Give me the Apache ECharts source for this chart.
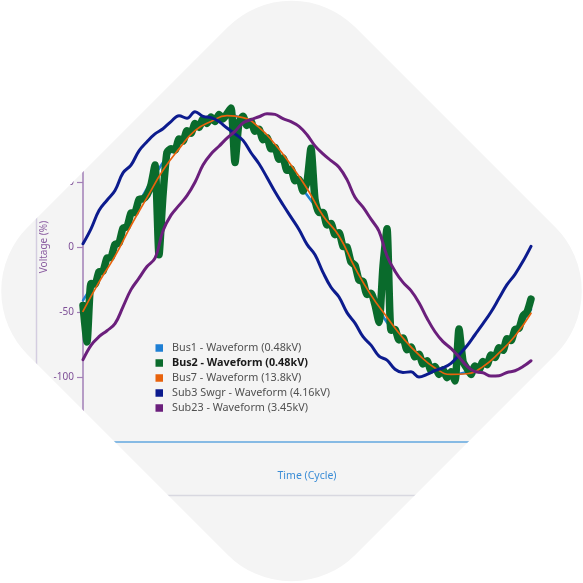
<!DOCTYPE html>
<html>
<head>
<meta charset="utf-8">
<script src="https://cdn.jsdelivr.net/npm/echarts@6/dist/echarts.min.js"></script>
<style>
html,body{margin:0;padding:0;background:#ffffff;}
#chart{width:583px;height:583px;}
</style>
</head>
<body>
<div id="chart"></div>
<script>
// ---- data ----
const seriesNames = [
  'Bus1 - Waveform (0.48kV)',
  'Bus2 - Waveform (0.48kV)',
  'Bus7 - Waveform (13.8kV)',
  'Sub3 Swgr - Waveform (4.16kV)',
  'Sub23 - Waveform (3.45kV)'
];
// x in sample units (0..112); each series lists values at its own sample step
const xMax = 112;
const bus1Step = 4;
const bus1Vals = [-41, -21, 0, 23.5, 45, 65, 80.5, 92.5, 98.5, 101.5, 98, 88, 74, 57.5, 40, 24, 8.5, -16.5, -38, -58, -72.5, -85, -94.4, -98.3, -96, -90.5, -80, -66, -48];
const bus2Step = 1;
const bus2Vals = [
  -45, -73, -28, -28.5, -19, -18.5, -8.5, -8, 2, 3,
  14.5, 15.5, 26, 26.5, 36.5, 37, 40, 48, 63, -6,
  40, 73, 75.5, 74.5, 83, 81.5, 89.5, 87.5, 95, 92,
  98.5, 95, 100, 96.5, 102, 98.5, 102.5, 107, 65, 96,
  100.5, 93.5, 96.5, 89, 90.5, 82.5, 84, 75.5, 76.5, 67.5,
  68.5, 59, 60, 51, 52, 43, 50, 76, 36.5, 26.5,
  26.5, 17, 18, 9.5, 11, 0.5, 0, -11.5, -14, -25.5,
  -26.5, -36.5, -35.5, -44.5, -58, -15, 14, -64, -63.5, -71.5,
  -70, -79, -77, -84.5, -82.5, -90, -87.5, -95, -92, -98,
  -94.5, -100.5, -96, -103, -63, -88, -93.5, -98, -91.5, -94.5,
  -88, -90.5, -83, -85, -77.5, -79.5, -70.5, -72, -63.5, -62.5,
  -53, -50, -40
];
const bus7Step = 4;
const bus7Vals = [-49.5, -27, -7, 16.5, 38, 59, 75.5, 89.5, 96.5, 101, 99.5, 92, 79, 63, 45, 24, 8.5, -16, -37, -54, -70, -83, -93, -98, -97.5, -92, -81.5, -68.5, -51];
const sub3Step = 2;
const sub3Vals = [2.5, 14, 28, 36, 43.5, 57, 63, 74, 81, 87, 91, 96.5, 101, 99, 104, 100.5, 99.5, 96.5, 91.5, 87, 82, 72.5, 64, 53.5, 42.5, 32.5, 23, 13.5, 2, -6, -19.5, -31, -38.5, -50.5, -58.5, -69, -75.5, -84, -87, -94, -96.5, -96, -100, -98, -95, -93, -89.5, -83, -76, -67.5, -59, -50, -39.5, -29, -21, -11, 0.5];
const sub23Step = 2;
const sub23Vals = [-86.7, -75.6, -69, -64.4, -59, -46, -32.8, -24, -15, -8.6, 12.5, 24.5, 32, 39.5, 49.8, 63, 71.5, 77.5, 83.7, 89, 95.4, 98, 100.2, 102.5, 102, 98.7, 96.4, 92.8, 86.4, 77.8, 71.6, 66.4, 61.4, 51.8, 38.3, 30.6, 21.4, 12.2, -6.9, -18.6, -27.2, -33.6, -42.8, -54.8, -65.2, -72.8, -78, -84.7, -91.7, -95.9, -96.7, -99.3, -99, -96.5, -95.2, -92, -87.5];
const yMin = -150, yMax = 150, yStep = 50;

// ---- styling ----
const colors = ['#1e7fd4', '#0a6b2c', '#e8620c', '#0c1b8e', '#6b1f7c'];
const widths = [2.5, 7.5, 1.7, 3, 3];
const smoothness = [true, 0.2, true, 0.4, 0.4];

function pairs(vals, step) { return vals.map((v, i) => [i * step, v]); }

// rounded-diamond frame: white stroke drawn outside a rotated rounded square
const frame = { cx: 291.5, cy: 291, halfSide: 231.6, radius: 90, band: 400 };

const chart = echarts.init(document.getElementById('chart'), null, { renderer: 'canvas' });

const seriesData = [
  pairs(bus1Vals, bus1Step),
  pairs(bus2Vals, bus2Step),
  pairs(bus7Vals, bus7Step),
  pairs(sub3Vals, sub3Step),
  pairs(sub23Vals, sub23Step)
];

const S = frame.halfSide + frame.band / 2;

const option = {
  animation: false,
  backgroundColor: '#f4f4f4',
  textStyle: { fontFamily: 'Noto Sans' },
  grid: { left: 83, right: 52, top: 52, bottom: 141, containLabel: false },
  legend: {
    orient: 'vertical',
    left: 155.5,
    top: 340.5,
    padding: 0,
    itemGap: 0,
    itemWidth: 7.5,
    itemHeight: 7.5,
    icon: 'rect',
    selectedMode: false,
    textStyle: { fontFamily: 'Noto Sans', fontSize: 10.8, color: '#505050', lineHeight: 15, padding: [0, 0, 0, 4] },
    data: seriesNames.map((n, i) => i === 1
      ? { name: n, textStyle: { fontWeight: 'bold', color: '#1a1a1a' } }
      : { name: n })
  },
  xAxis: {
    type: 'value',
    min: 0,
    max: xMax,
    name: 'Time (Cycle)',
    nameLocation: 'middle',
    nameGap: 29,
    nameMoveOverlap: false,
    nameTextStyle: { color: '#3b8dd6', fontSize: 10.5, fontFamily: 'Noto Sans' },
    axisLine: { show: true, onZero: false, lineStyle: { color: '#62a6de', width: 1.5 } },
    axisTick: { show: false },
    axisLabel: { show: false },
    splitLine: { show: false }
  },
  yAxis: {
    type: 'value',
    min: yMin,
    max: yMax,
    interval: yStep,
    name: 'Voltage (%)',
    nameLocation: 'middle',
    nameGap: 34,
    nameMoveOverlap: false,
    nameTextStyle: { color: '#8a5ca0', fontSize: 10, fontFamily: 'Noto Sans' },
    axisLine: { show: true, lineStyle: { color: '#a27fb7', width: 1.5 } },
    axisTick: { show: true, length: 6, lineStyle: { color: '#a27fb7', width: 1.2 } },
    axisLabel: { color: '#7e4f97', fontSize: 10, margin: 9, fontFamily: 'Noto Sans' },
    splitLine: { show: false }
  },
  graphic: [
    { type: 'line', z: 0, silent: true, shape: { x1: 0, y1: 495.5, x2: 583, y2: 495.5 }, style: { stroke: '#d8d8e0', lineWidth: 1.5 } },
    { type: 'line', z: 0, silent: true, shape: { x1: 36.5, y1: 0, x2: 36.5, y2: 583 }, style: { stroke: '#d4cde0', lineWidth: 1.5 } },
    {
      type: 'rect', z: 100, silent: true,
      x: frame.cx, y: frame.cy, rotation: Math.PI / 4,
      shape: { x: -S, y: -S, width: 2 * S, height: 2 * S, r: frame.radius + frame.band / 2 },
      style: { fill: null, stroke: '#ffffff', lineWidth: frame.band }
    }
  ],
  series: seriesNames.map((n, i) => ({
    name: n,
    type: 'line',
    data: seriesData[i],
    symbol: 'none',
    showSymbol: false,
    smooth: smoothness[i],
    clip: false,
    lineStyle: { color: colors[i], width: widths[i], join: 'round', cap: 'round' },
    itemStyle: { color: colors[i] },
    emphasis: { disabled: true }
  }))
};

chart.setOption(option);
</script>
</body>
</html>
